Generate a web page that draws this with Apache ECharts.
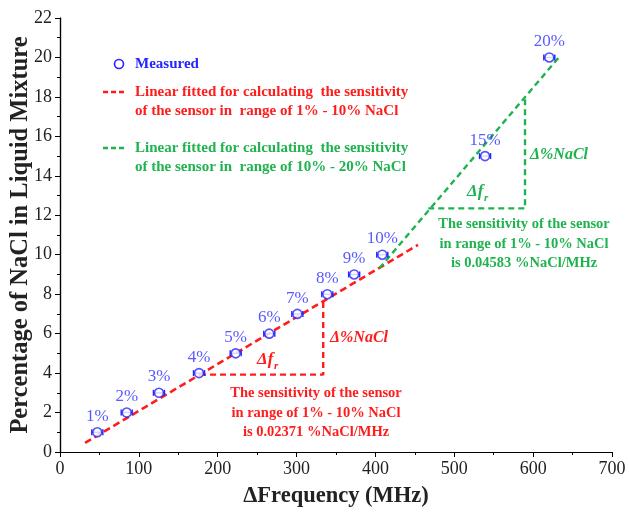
<!DOCTYPE html>
<html>
<head>
<meta charset="utf-8">
<script src="https://cdn.jsdelivr.net/npm/echarts@6/dist/echarts.min.js"></script>
<style>
  html, body { margin: 0; padding: 0; background: #fff; }
  #main { width: 629px; height: 530px; }
</style>
</head>
<body>
<div id="main"></div>
<script>
// measured points
const freq = [47.3, 84.6, 125.5, 176.3, 222.8, 265.4, 301, 339, 373, 408.7, 539, 620.5];
const nacl = [1, 2, 3, 4, 5, 6, 7, 8, 9, 10, 15, 20];
const pctLabels = ["1%", "2%", "3%", "4%", "5%", "6%", "7%", "8%", "9%", "10%", "15%", "20%"];
const freqErr = [7, 7, 7, 7, 7, 7, 7, 7, 7, 7, 7, 7];

// fitted lines and the slope triangles
const redFit = [[31.7, 0.46], [454, 10.5]];
const greenFit = [[405, 9.31], [634, 20.07]];
const redTriangle = [[177.5, 3.92], [333.8, 3.92], [333.8, 7.64]];
const greenTriangle = [[467, 12.35], [589.7, 12.35], [589.7, 17.98]];

const SERIF = '"Liberation Serif", "Times New Roman", serif';
const BLUE = "#2424ff";
const RED = "#ff1c1c";
const GREEN = "#1fb34f";

const chart = echarts.init(document.getElementById("main"));

const points = freq.map((f, i) => [f, nacl[i]]);
const errData = freq.map((f, i) => [f, nacl[i], freqErr[i]]);

const axisCommon = {
  type: "value",
  axisLine: { show: true, lineStyle: { color: "#000", width: 1.2 } },
  splitLine: { show: false },
};

function txt(x, y, text, font, fill, align) {
  return {
    type: "text",
    x: x,
    y: y,
    style: {
      text: text,
      font: font,
      fill: fill,
      textAlign: align || "left",
      textVerticalAlign: "middle",
      lineHeight: 19.5,
    },
  };
}

chart.setOption({
  animation: false,
  grid: { left: 60, right: 17, top: 18, bottom: 78, outerBoundsMode: "none", containLabel: false },
  xAxis: [
    {
      ...axisCommon,
      min: 0,
      max: 700,
      interval: 100,
      position: "bottom",
      axisTick: { show: true, inside: false, length: 5, lineStyle: { color: "#000" } },
      minorTick: { show: true, splitNumber: 2, length: 3, lineStyle: { color: "#000" } },
      axisLabel: { color: "#222", fontFamily: SERIF, fontSize: 18, margin: 8 },
      name: "ΔFrequency (MHz)",
      nameLocation: "middle",
      nameGap: 33,
      nameMoveOverlap: false,
      nameTextStyle: { color: "#222", fontFamily: SERIF, fontSize: 22.5, fontWeight: "bold" },
    },
    {
      ...axisCommon,
      min: 0,
      max: 700,
      interval: 100,
      position: "top",
      axisTick: { show: true, inside: true, length: 5, lineStyle: { color: "#000" } },
      minorTick: { show: true, splitNumber: 2, length: 3, lineStyle: { color: "#000" } },
      axisLabel: { show: false },
    },
  ],
  yAxis: [
    {
      ...axisCommon,
      min: 0,
      max: 22,
      interval: 2,
      position: "left",
      axisTick: { show: true, inside: false, length: 5, lineStyle: { color: "#000" } },
      minorTick: { show: true, splitNumber: 2, length: 3, lineStyle: { color: "#000" } },
      axisLabel: { color: "#222", fontFamily: SERIF, fontSize: 18, margin: 8 },
      name: "Percentage of NaCl in Liquid Mixture",
      nameLocation: "middle",
      nameGap: 27,
      nameMoveOverlap: false,
      nameTextStyle: { color: "#222", fontFamily: SERIF, fontSize: 24.5, fontWeight: "bold" },
    },
    {
      ...axisCommon,
      min: 0,
      max: 22,
      interval: 2,
      position: "right",
      axisTick: { show: true, inside: true, length: 5, lineStyle: { color: "#000" } },
      minorTick: { show: true, splitNumber: 2, length: 3, lineStyle: { color: "#000" } },
      axisLabel: { show: false },
    },
  ],
  series: [
    {
      name: "red fit",
      type: "line",
      data: redFit,
      symbol: "none",
      lineStyle: { color: RED, width: 2.6, type: [7, 4] },
      z: 2,
    },
    {
      name: "green fit",
      type: "line",
      data: greenFit,
      symbol: "none",
      lineStyle: { color: GREEN, width: 2.4, type: [6, 4] },
      z: 2,
    },
    {
      name: "red triangle",
      type: "line",
      data: redTriangle,
      symbol: "none",
      lineStyle: { color: RED, width: 2.4, type: [6, 4] },
      z: 2,
    },
    {
      name: "green triangle",
      type: "line",
      data: greenTriangle,
      symbol: "none",
      lineStyle: { color: GREEN, width: 2.4, type: [6, 4] },
      z: 2,
    },
    {
      name: "error",
      type: "custom",
      data: errData,
      z: 3,
      renderItem: function (params, api) {
        const y = api.value(1);
        const lo = api.coord([api.value(0) - api.value(2), y]);
        const hi = api.coord([api.value(0) + api.value(2), y]);
        const cap = 3;
        const st = { stroke: BLUE, lineWidth: 1.4 };
        return {
          type: "group",
          children: [
            { type: "line", shape: { x1: lo[0], y1: lo[1], x2: hi[0], y2: hi[1] }, style: st },
            { type: "line", shape: { x1: lo[0], y1: lo[1] - cap, x2: lo[0], y2: lo[1] + cap }, style: st },
            { type: "line", shape: { x1: hi[0], y1: hi[1] - cap, x2: hi[0], y2: hi[1] + cap }, style: st },
          ],
        };
      },
    },
    {
      name: "Measured",
      type: "scatter",
      data: points,
      symbol: "circle",
      symbolSize: 9,
      itemStyle: { color: "#fff", borderColor: BLUE, borderWidth: 1.6 },
      label: {
        show: true,
        position: "top",
        distance: 2,
        color: "#2f2fff",
        fontFamily: SERIF,
        fontSize: 17,
        formatter: (p) => pctLabels[p.dataIndex],
      },
      z: 4,
    },
  ],
  graphic: [
    // legend
    { type: "circle", shape: { cx: 119, cy: 64, r: 4.5 }, style: { fill: "#fff", stroke: BLUE, lineWidth: 1.6 } },
    txt(135, 64, "Measured", "bold 15px " + SERIF, BLUE),
    { type: "line", shape: { x1: 103, y1: 92, x2: 124, y2: 92 }, style: { stroke: RED, lineWidth: 2.4, lineDash: [5, 3] } },
    txt(135, 101.5, "Linear fitted for calculating  the sensitivity\nof the sensor in  range of 1% - 10% NaCl", "bold 15px " + SERIF, RED),
    { type: "line", shape: { x1: 103, y1: 148, x2: 124, y2: 148 }, style: { stroke: GREEN, lineWidth: 2.4, lineDash: [5, 3] } },
    txt(135, 157.5, "Linear fitted for calculating  the sensitivity\nof the sensor in  range of 10% - 20% NaCl", "bold 15px " + SERIF, GREEN),

    // red triangle notes
    txt(257, 360, "Δf", "italic bold 17px " + SERIF, RED),
    txt(274, 366, "r", "italic bold 11px " + SERIF, RED),
    txt(330, 338, "Δ%NaCl", "italic bold 16px " + SERIF, RED),
    txt(316, 413, "The sensitivity of the sensor\nin range of 1% - 10% NaCl\nis 0.02371 %NaCl/MHz", "bold 14.5px " + SERIF, RED, "center"),

    // green triangle notes
    txt(467, 192, "Δf", "italic bold 17px " + SERIF, GREEN),
    txt(484, 198, "r", "italic bold 11px " + SERIF, GREEN),
    txt(530, 155, "Δ%NaCl", "italic bold 16px " + SERIF, GREEN),
    txt(524, 244, "The sensitivity of the sensor\nin range of 1% - 10% NaCl\nis 0.04583 %NaCl/MHz", "bold 14.5px " + SERIF, GREEN, "center"),
  ],
});
</script>
</body>
</html>
